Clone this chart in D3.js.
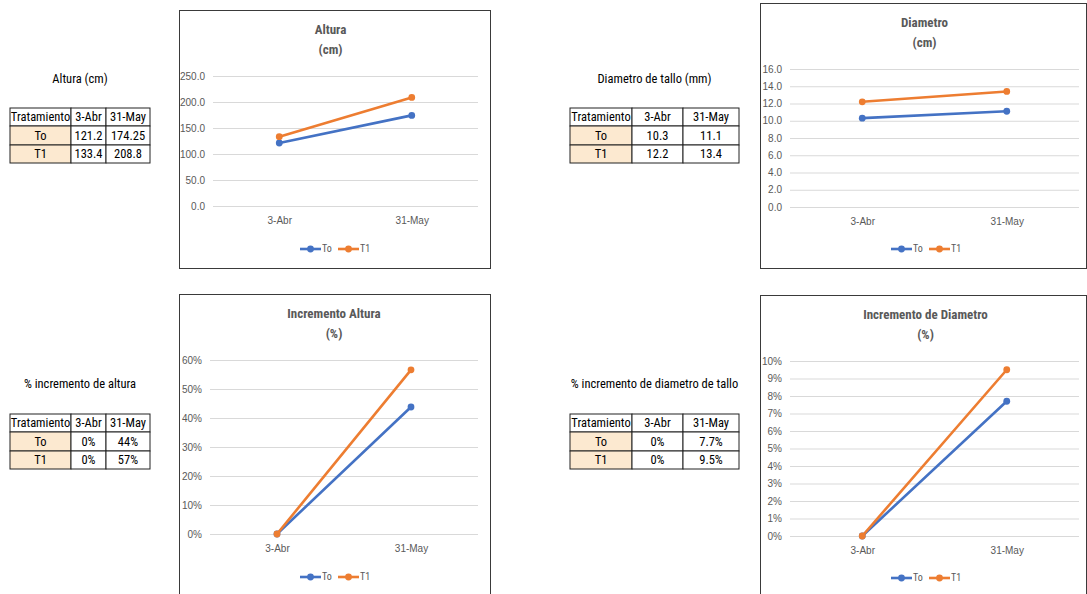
<!DOCTYPE html>
<html>
<head>
<meta charset="utf-8">
<script src="https://cdn.jsdelivr.net/npm/d3@7"></script>
<style>
  body { margin: 0; background: #fff; }
  svg text { font-family: "Liberation Sans Narrow", "Roboto Condensed", "Liberation Sans", sans-serif; }
</style>
</head>
<body>
<div id="chart"></div>
<script>
// data
var fechas = ["3-Abr", "31-May"];
var tratamientos = ["To", "T1"];
var alturaTo = [121.2, 174.25];
var alturaT1 = [133.4, 208.8];
var diamTo = [10.3, 11.1];
var diamT1 = [12.2, 13.4];
var incAlturaTo = [0, 0.438];
var incAlturaT1 = [0, 0.566];
var incDiamTo = [0, 0.077];
var incDiamT1 = [0, 0.095];

var colores = {To: "#4472C4", T1: "#ED7D31"};

var svg = d3.select("#chart")
  .append("svg")
    .attr("width", 1087)
    .attr("height", 594);

/* tables on the left of each chart */
function pct(dec) {
  var f = d3.format("." + dec + "%");
  return function(v) { return v === 0 ? "0%" : f(v); };
}

function drawTable(cfg) {
  var g = svg.append("g");
  var cols = cfg.cols, rows = cfg.rows;
  g.append("text")
    .attr("x", (cols[0] + cols[cols.length - 1]) / 2)
    .attr("y", cfg.titleY)
    .attr("text-anchor", "middle")
    .attr("dominant-baseline", "middle")
    .attr("font-size", 12.5)
    .attr("fill", "#000")
    .text(cfg.title);

  var body = [["Tratamiento"].concat(fechas)];
  cfg.series.forEach(function(s, i) {
    body.push([tratamientos[i]].concat(s.map(cfg.fmt)));
  });

  body.forEach(function(r, ri) {
    r.forEach(function(txt, ci) {
      g.append("rect")
        .attr("x", cols[ci])
        .attr("y", rows[ri])
        .attr("width", cols[ci + 1] - cols[ci])
        .attr("height", rows[ri + 1] - rows[ri])
        .attr("fill", (ci === 0 && ri > 0) ? "#FCE9D0" : "#fff")
        .attr("stroke", "#222")
        .attr("stroke-width", 1);
      g.append("text")
        .attr("x", (cols[ci] + cols[ci + 1]) / 2)
        .attr("y", (rows[ri] + rows[ri + 1]) / 2 + 1)
        .attr("text-anchor", "middle")
        .attr("dominant-baseline", "middle")
        .attr("font-size", 12.5)
        .attr("fill", "#000")
        .text(txt);
    });
  });
}

/* line charts */
function drawChart(cfg) {
  var g = svg.append("g");
  g.append("rect")
    .attr("x", cfg.box[0] + 0.5)
    .attr("y", cfg.box[1] + 0.5)
    .attr("width", cfg.box[2] - cfg.box[0])
    .attr("height", cfg.box[3] - cfg.box[1])
    .attr("fill", "#fff")
    .attr("stroke", "#3a3a3a")
    .attr("stroke-width", 1);

  var cx = (cfg.plot[0] + cfg.plot[1]) / 2 + cfg.titleDx;
  cfg.title.forEach(function(t, i) {
    g.append("text")
      .attr("x", cx)
      .attr("y", cfg.titleY + i * 20)
      .attr("text-anchor", "middle")
      .attr("dominant-baseline", "middle")
      .attr("font-size", 13)
      .attr("font-weight", "bold")
      .attr("fill", "#595959")
      .text(t);
  });

  var x = d3.scalePoint()
    .domain(fechas)
    .range([cfg.plot[0], cfg.plot[1]])
    .padding(0.5);
  var y = d3.scaleLinear()
    .domain([0, cfg.max])
    .range([cfg.plot[3], cfg.plot[2]]);
  var ticks = d3.range(0, cfg.max + cfg.step / 2, cfg.step);

  var yAxis = g.append("g")
    .attr("transform", "translate(" + cfg.plot[0] + ",0)")
    .call(d3.axisLeft(y).tickValues(ticks).tickFormat(cfg.tickFmt)
      .tickSize(-(cfg.plot[1] - cfg.plot[0])).tickPadding(8));
  yAxis.select(".domain").remove();
  yAxis.selectAll("line").attr("stroke", "#d9d9d9");
  yAxis.selectAll("text").attr("fill", "#595959").attr("font-size", 10)
    .style("font-family", "'Liberation Sans Narrow', 'Liberation Sans', sans-serif");

  var xAxis = g.append("g")
    .attr("transform", "translate(0," + cfg.plot[3] + ")")
    .call(d3.axisBottom(x).tickSize(0).tickPadding(11));
  xAxis.select(".domain").remove();
  xAxis.selectAll("text").attr("fill", "#595959").attr("font-size", 10)
    .style("font-family", "'Liberation Sans Narrow', 'Liberation Sans', sans-serif");

  var line = d3.line()
    .x(function(d, i) { return x(fechas[i]); })
    .y(function(d) { return y(d); });

  cfg.series.forEach(function(s, i) {
    var c = colores[tratamientos[i]];
    g.append("path")
      .datum(s)
      .attr("d", line)
      .attr("fill", "none")
      .attr("stroke", c)
      .attr("stroke-width", 2.6)
      .attr("stroke-linecap", "round");
    g.selectAll(null)
      .data(s)
      .enter()
      .append("circle")
        .attr("cx", function(d, j) { return x(fechas[j]); })
        .attr("cy", function(d) { return y(d); })
        .attr("r", 3.4)
        .attr("fill", c);
  });

  // legend
  var lx = cfg.legend[0], ly = cfg.legend[1];
  tratamientos.forEach(function(t, i) {
    var ox = lx + i * 38;
    g.append("line")
      .attr("x1", ox).attr("x2", ox + 21)
      .attr("y1", ly).attr("y2", ly)
      .attr("stroke", colores[t]).attr("stroke-width", 2.6);
    g.append("circle")
      .attr("cx", ox + 10.5).attr("cy", ly).attr("r", 3.4)
      .attr("fill", colores[t]);
    g.append("text")
      .attr("x", ox + 22).attr("y", ly + 0.5)
      .attr("dominant-baseline", "middle")
      .attr("font-size", 10)
      .attr("fill", "#595959")
      .text(t);
  });
}

drawTable({title: "Altura (cm)", titleY: 80, cols: [10, 71, 106, 150], rows: [108, 126, 145, 163],
  series: [alturaTo, alturaT1], fmt: function(v) { return String(v); }});
drawTable({title: "Diametro de tallo (mm)", titleY: 80, cols: [570, 632, 683, 739], rows: [108, 126, 145, 163],
  series: [diamTo, diamT1], fmt: function(v) { return String(v); }});
drawTable({title: "% incremento de altura", titleY: 385, cols: [10, 71, 106, 150], rows: [414, 432, 451, 469],
  series: [incAlturaTo, incAlturaT1], fmt: pct(0)});
drawTable({title: "% incremento de diametro de tallo", titleY: 385, cols: [570, 632, 683, 739], rows: [414, 432, 451, 469],
  series: [incDiamTo, incDiamT1], fmt: pct(1)});

drawChart({box: [179, 10, 490, 268], plot: [213, 478, 76, 206], max: 250, step: 50,
  tickFmt: d3.format(".1f"), title: ["Altura", "(cm)"], titleY: 31, titleDx: -15,
  series: [alturaTo, alturaT1], legend: [300, 249]});
drawChart({box: [760, 3, 1086, 268], plot: [790, 1079, 69, 207], max: 16, step: 2,
  tickFmt: d3.format(".1f"), title: ["Diametro", "(cm)"], titleY: 24, titleDx: -10,
  series: [diamTo, diamT1], legend: [891, 249]});
drawChart({box: [179, 294, 490, 600], plot: [210, 478, 360, 534], max: 0.6, step: 0.1,
  tickFmt: d3.format(".0%"), title: ["Incremento Altura", "(%)"], titleY: 315, titleDx: -10,
  series: [incAlturaTo, incAlturaT1], legend: [300, 577]});
drawChart({box: [760, 295, 1086, 600], plot: [790, 1079, 361, 536], max: 0.10, step: 0.01,
  tickFmt: d3.format(".0%"), title: ["Incremento de Diametro", "(%)"], titleY: 316, titleDx: -9,
  series: [incDiamTo, incDiamT1], legend: [891, 578]});
</script>
</body>
</html>
